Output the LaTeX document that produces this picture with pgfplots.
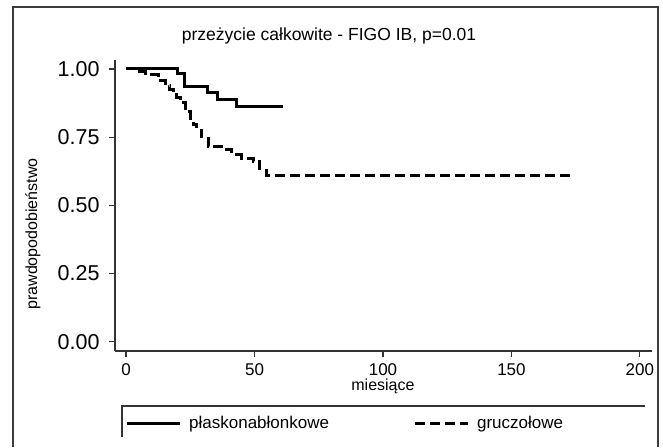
\documentclass[border=0pt]{standalone}
\usepackage{fontspec}
\setmainfont{Liberation Sans}
\usepackage{pgfplots}
\pgfplotsset{compat=1.18}

\definecolor{frame}{RGB}{60,60,60}

\begin{document}
\begin{tikzpicture}[x=1pt,y=1pt]
\path[use as bounding box] (0,0) rectangle (663,447);

% outer graph frame (open at the bottom)
\draw[frame, line width=1.4pt] (13,0) -- (13,440) -- (658,440) -- (658,0);

\begin{axis}[
    at={(115pt,96pt)}, anchor=south west,
    scale only axis,
    width=537pt, height=291pt,
    xmin=-4.3, xmax=204.7,
    ymin=-0.034, ymax=1.033,
    axis x line*=bottom,
    axis y line*=left,
    axis line style={line width=1.2pt, black!80},
    every tick/.style={line width=1.1pt, black!80},
    tick align=outside,
    major tick length=6pt,
    xtick={0,50,100,150,200},
    ytick={0,0.25,0.5,0.75,1},
    yticklabel style={/pgf/number format/fixed, /pgf/number format/fixed zerofill,
                      /pgf/number format/precision=2},
    /pgf/number format/assume math mode=true,
    y tick label style={font=\fontsize{21.5}{21.5}\selectfont, xshift=-6pt},
    x tick label style={font=\fontsize{17}{17}\selectfont, yshift=-3pt},
    title={przeżycie całkowite - FIGO IB, p=0.01},
    title style={at={(axis description cs:0.3985,1.062)}, anchor=center,
                 font=\fontsize{17.5}{20}\selectfont},
    xlabel={miesiące},
    xlabel style={at={(axis description cs:0.499,-0.12)}, anchor=center,
                  font=\fontsize{16}{18}\selectfont},
    ylabel={prawdopodobieństwo},
    ylabel style={at={(axis description cs:-0.153,0.402)}, anchor=center,
                  font=\fontsize{16}{18}\selectfont},
    legend columns=2,
    legend style={draw=none, fill=none,
                  at={(axis description cs:0.013,-0.249)}, anchor=west,
                  font=\fontsize{17}{19}\selectfont,
                  /tikz/every odd column/.append style={column sep=6pt},
                  /tikz/every even column/.append style={column sep=82pt}},
    legend image code/.code={\draw[#1] (0pt,0pt) -- (53pt,0pt);},
    clip=false,
]
% plaskonablonkowe
\addplot[const plot, black, line width=3pt] coordinates {
    (0,1) (19.9,0.983) (22.6,0.935) (31.8,0.915) (35.5,0.888) (43.1,0.862) (61.2,0.862)
};
% gruczolowe
\addplot[const plot, black, line width=3pt, dash pattern=on 10pt off 5pt] coordinates {
    (0,1) (4.2,0.990) (7.4,0.978) (12.6,0.957) (15.2,0.941) (17.1,0.923)
    (18.3,0.905) (19.8,0.894) (21.0,0.876) (23.0,0.843) (24.9,0.820)
    (26.1,0.795) (27.5,0.776) (29.5,0.746) (32.0,0.715) (37.2,0.703)
    (41.1,0.685) (45.0,0.673) (49.5,0.660) (52.1,0.629) (54.5,0.611)
    (173.9,0.611)
};
\legend{płaskonabłonkowe, gruczołowe}
\end{axis}

% legend frame: top and left edges
\draw[black!80, line width=1.2pt] (122,10) -- (122,41) -- (645,41);
\end{tikzpicture}
\end{document}
